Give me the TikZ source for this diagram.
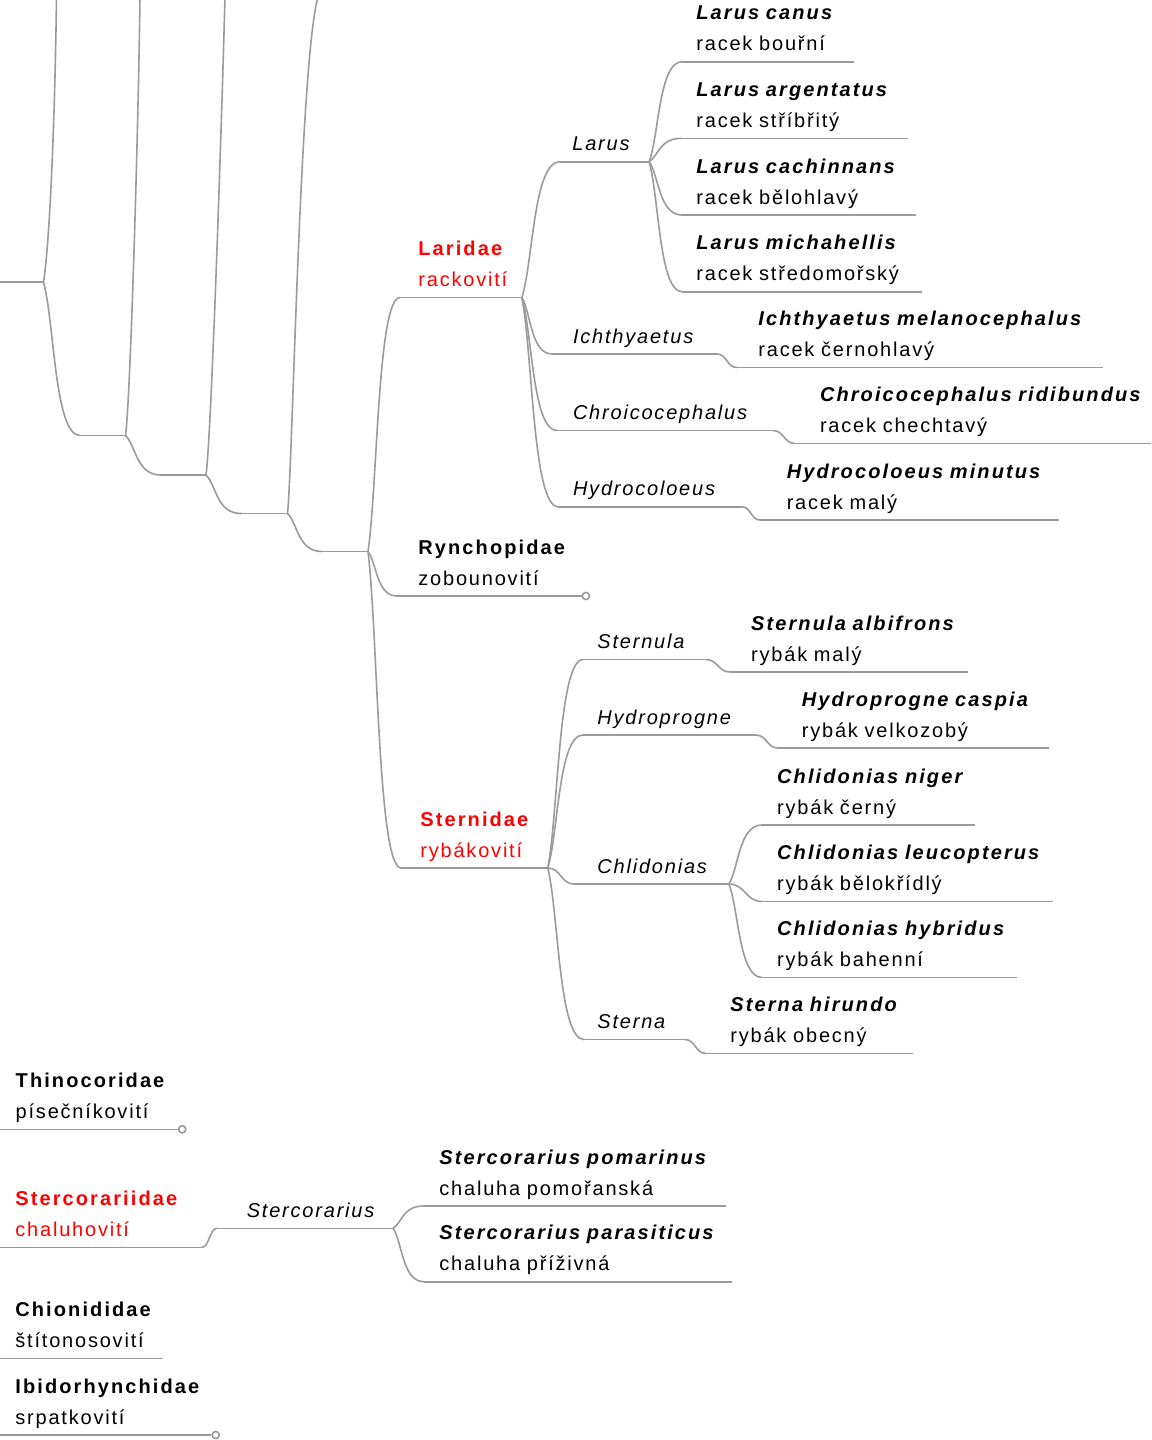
\documentclass[tikz,border=0pt]{standalone}
\usepackage{fontspec}
\setmainfont{Liberation Sans}[LetterSpace=9, BoldFeatures={LetterSpace=10.5}, BoldItalicFeatures={LetterSpace=10.5}]
\usetikzlibrary{calc}
\definecolor{linegray}{RGB}{155,155,155}
\definecolor{famred}{RGB}{255,0,0}
\newcommand\dpth{\rule[-5.2pt]{0pt}{5.2pt}}
\newcommand\spname[2]{\mbox{\bfseries\itshape #1}\\\mbox{#2}\dpth}
\newcommand\famname[2]{\mbox{\bfseries #1}\\\mbox{#2}\dpth}
\newcommand\genname[1]{\mbox{\itshape #1}\dpth}
\newcommand\tline[1]{\draw[conn] (#1.south west) -- (#1.south east);}
\newcommand\tlink[2]{\draw[conn] let \p1=(#1), \p2=(#2) in (#1) .. controls ($(\p1)+({0.3*(\x2-\x1)},{0.26*(\y2-\y1)})$) and ($(\p1)+({0.3*(\x2-\x1)},{\y2-\y1})$) .. (#2);}
\newcommand\slink[2]{\draw[conn] let \p1=(#1), \p2=(#2) in (#1) .. controls ($(\p1)+({0.5*(\x2-\x1)},0)$) and ($(\p2)-({0.5*(\x2-\x1)},0)$) .. (#2);}
\tikzset{
  conn/.style={draw=linegray, line width=0.8pt},
  topic/.style 2 args={anchor=south west, inner xsep=#1, inner ysep=0pt, text width=#2, align=left, font=\fontsize{10pt}{15.6pt}\selectfont, text=black},
  knob/.style={circle, draw=linegray, fill=white, line width=0.8pt, minimum size=3.6pt, inner sep=0pt, anchor=west},
}
\begin{document}
\begin{tikzpicture}[x=0.5pt, y=-0.5pt]
\path[use as bounding box] (0,0) rectangle (1151,1440);
\clip (0,0) rectangle (1151,1440);
\fill[white] (0,0) rectangle (1151,1440);

% ---- upper-left chain (off-canvas ancestors)
\coordinate (l0) at (-5,282);
\coordinate (j0) at (43.5,282);
\coordinate (t1) at (56.5,-3);
\coordinate (n1a) at (80,435.5);  \coordinate (n1b) at (125.5,435.5);
\coordinate (t2) at (140,-3);
\coordinate (n2a) at (161,475);   \coordinate (n2b) at (206,475);
\coordinate (t3) at (225,-3);
\coordinate (n3a) at (241,513.5); \coordinate (n3b) at (287.5,513.5);
\coordinate (t4) at (318,-3);
\coordinate (n4a) at (322,551.5); \coordinate (n4b) at (368,551.5);

\draw[conn] (l0) -- (j0);
\draw[conn] (j0) .. controls +(5,-30) and +(-2,150) .. (t1);
\tlink{j0}{n1a} \draw[conn] (n1a) -- (n1b);
\draw[conn] (n1b) .. controls +(4.5,-30) and +(-2,150) .. (t2);
\tlink{n1b}{n2a} \draw[conn] (n2a) -- (n2b);
\draw[conn] (n2b) .. controls +(5,-35) and +(-4,150) .. (t3);
\tlink{n2b}{n3a} \draw[conn] (n3a) -- (n3b);
\draw[conn] (n3b) .. controls +(5,-43) and +(-18,62) .. (t4);
\tlink{n3b}{n4a} \draw[conn] (n4a) -- (n4b);

% ---- families
\node[topic={9pt}{42.5pt}, text=famred] (lar) at (400,297.5) {\famname{Laridae}{rackovití}};
\node[topic={10.5pt}{70.85pt}] (ryn) at (397,596) {\famname{Rynchopidae}{zobounovití}};
\node[topic={9.5pt}{54pt}, text=famred] (ste) at (401,868) {\famname{Sternidae}{rybákovití}};
\node[knob] (rynk) at (ryn.south east) {};
\foreach \n in {lar,ryn,ste} {\tline{\n}}
\tlink{n4b}{lar.south west}
\tlink{n4b}{ryn.south west}
\tlink{n4b}{ste.south west}

% ---- Laridae genera
\node[topic={6pt}{32.15pt}] (glar) at (560,161.7) {\genname{Larus}};
\node[topic={10.3pt}{61.4pt}] (gich) at (552,354) {\genname{Ichthyaetus}};
\node[topic={7.8pt}{91.9pt}] (gchr) at (557,430.5) {\genname{Chroicocephalus}};
\node[topic={7.3pt}{76.9pt}] (ghyd) at (558,506.7) {\genname{Hydrocoloeus}};
\foreach \n in {glar,gich,gchr,ghyd} {\tline{\n}}
\tlink{lar.south east}{glar.south west}
\tlink{lar.south east}{gich.south west}
\tlink{lar.south east}{gchr.south west}
\tlink{lar.south east}{ghyd.south west}

% ---- Laridae species
\node[topic={7pt}{71.5pt}] (s1) at (682,61.7) {\spname{Larus canus}{racek bouřní}};
\node[topic={7pt}{98.65pt}] (s2) at (682,138.3) {\spname{Larus argentatus}{racek stříbřitý}};
\node[topic={7pt}{102.5pt}] (s3) at (682,215) {\spname{Larus cachinnans}{racek bělohlavý}};
\node[topic={7pt}{105.5pt}] (s4) at (682,291.7) {\spname{Larus michahellis}{racek středomořský}};
\node[topic={10.5pt}{161.5pt}] (s5) at (737,367.5) {\spname{Ichthyaetus melanocephalus}{racek černohlavý}};
\node[topic={12.3pt}{160.4pt}] (s6) at (795,443.5) {\spname{Chroicocephalus ridibundus}{racek chechtavý}};
\node[topic={13.2pt}{122.6pt}] (s7) at (760,520) {\spname{Hydrocoloeus minutus}{racek malý}};
\foreach \n in {s1,s2,s3,s4,s5,s6,s7} {\tline{\n}}
\tlink{glar.south east}{s1.south west}
\tlink{glar.south east}{s2.south west}
\tlink{glar.south east}{s3.south west}
\tlink{glar.south east}{s4.south west}
\slink{gich.south east}{s5.south west}
\slink{gchr.south east}{s6.south west}
\slink{ghyd.south east}{s7.south west}

% ---- Sternidae genera
\node[topic={7pt}{47pt}] (gsta) at (583,659.5) {\genname{Sternula}};
\node[topic={7pt}{72pt}] (ghpr) at (583,735) {\genname{Hydroprogne}};
\node[topic={11.5pt}{54pt}] (gchl) at (574,884) {\genname{Chlidonias}};
\node[topic={6.5pt}{37pt}] (gste) at (584,1039.5) {\genname{Sterna}};
\foreach \n in {gsta,ghpr,gchl,gste} {\tline{\n}}
\tlink{ste.south east}{gsta.south west}
\tlink{ste.south east}{ghpr.south west}
\slink{ste.south east}{gchl.south west}
\tlink{ste.south east}{gste.south west}

% ---- Sternidae species
\node[topic={10.4pt}{98pt}] (r1) at (730,672) {\spname{Sternula albifrons}{rybák malý}};
\node[topic={11.75pt}{111.5pt}] (r2) at (778,748) {\spname{Hydroprogne caspia}{rybák velkozobý}};
\node[topic={7.4pt}{91.2pt}] (r3) at (762,825) {\spname{Chlidonias niger}{rybák černý}};
\node[topic={7.4pt}{130.2pt}] (r4) at (762,901.5) {\spname{Chlidonias leucopterus}{rybák bělokřídlý}};
\node[topic={7.4pt}{112.2pt}] (r5) at (762,977.5) {\spname{Chlidonias hybridus}{rybák bahenní}};
\node[topic={12pt}{79pt}] (r6) at (706,1053.5) {\spname{Sterna hirundo}{rybák obecný}};
\foreach \n in {r1,r2,r3,r4,r5,r6} {\tline{\n}}
\slink{gsta.south east}{r1.south west}
\slink{ghpr.south east}{r2.south west}
\tlink{gchl.south east}{r3.south west}
\slink{gchl.south east}{r4.south west}
\tlink{gchl.south east}{r5.south west}
\slink{gste.south east}{r6.south west}

% ---- lower families
\node[topic={12.65pt}{68.2pt}] (thi) at (-10,1129.3) {\famname{Thinocoridae}{písečníkovití}};
\node[topic={12.5pt}{80.5pt}, text=famred] (stc) at (-10,1247.3) {\famname{Stercorariidae}{chaluhovití}};
\node[topic={12.5pt}{60.85pt}] (chi) at (-10,1358.3) {\famname{Chionididae}{štítonosovití}};
\node[topic={12.5pt}{85.25pt}] (ibi) at (-10,1435) {\famname{Ibidorhynchidae}{srpatkovití}};
\foreach \n in {thi,stc,chi,ibi} {\tline{\n}}
\node[knob] (thik) at (thi.south east) {};
\node[knob] (ibik) at (ibi.south east) {};

\node[topic={14.7pt}{58.25pt}] (gstc) at (217,1228.3) {\genname{Stercorarius}};
\tline{gstc}
\slink{stc.south east}{gstc.south west}
\node[topic={7.5pt}{135.5pt}] (c1) at (424,1206) {\spname{Stercorarius pomarinus}{chaluha pomořanská}};
\node[topic={7.5pt}{138.5pt}] (c2) at (424,1281.7) {\spname{Stercorarius parasiticus}{chaluha příživná}};
\tline{c1} \tline{c2}
\tlink{gstc.south east}{c1.south west}
\tlink{gstc.south east}{c2.south west}
\end{tikzpicture}
\end{document}
